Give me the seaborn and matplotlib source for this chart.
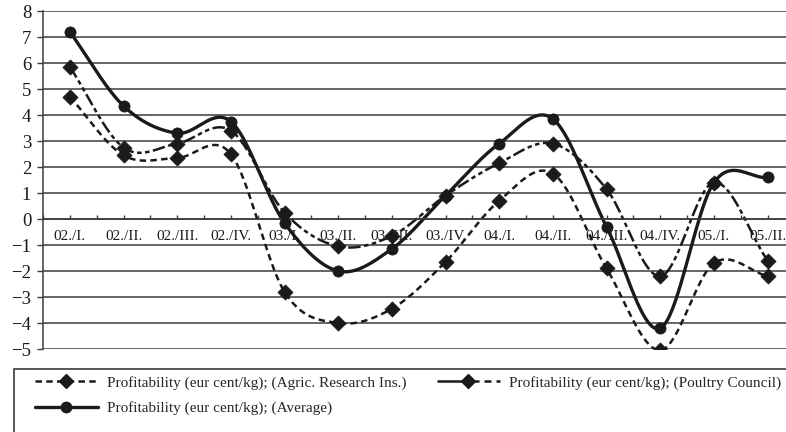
import numpy as np
import pandas as pd
import matplotlib
matplotlib.use("Agg")
import matplotlib.pyplot as plt
import seaborn as sns
from matplotlib.lines import Line2D
from matplotlib.patches import Rectangle

categories = ["02./I.", "02./II.", "02./III.", "02./IV.", "03./I.", "03./II.", "03./III.",
              "03./IV.", "04./I.", "04./II.", "04./III.", "04./IV.", "05./I.", "05./II."]
agric = [4.7, 2.45, 2.35, 2.5, -2.8, -4.0, -3.45, -1.65, 0.7, 1.75, -1.9, -5.05, -1.7, -2.2]
poultry = [5.85, 2.75, 2.9, 3.4, 0.25, -1.05, -0.65, 0.9, 2.15, 2.9, 1.15, -2.2, 1.4, -1.6]
average = [7.2, 4.35, 3.3, 3.75, -0.15, -2.0, -1.15, 0.9, 2.9, 3.85, -0.3, -4.2, 1.4, 1.6]
y_ticks = list(range(-5, 9))
labels = ["Profitability (eur cent/kg); (Agric. Research Ins.)",
          "Profitability (eur cent/kg); (Poultry Council)",
          "Profitability (eur cent/kg); (Average)"]


def smooth(vals, n=40):
    y = np.asarray(vals, float)
    p = np.concatenate([[2 * y[0] - y[1]], y, [2 * y[-1] - y[-2]]])
    xs, ys = [], []
    for i in range(len(y) - 1):
        t = np.linspace(0, 1, n, endpoint=(i == len(y) - 2))
        p0, p1, p2, p3 = p[i], p[i + 1], p[i + 2], p[i + 3]
        m1 = (p2 - p0) / 2
        m2 = (p3 - p1) / 2
        h00 = 2 * t**3 - 3 * t**2 + 1
        h10 = t**3 - 2 * t**2 + t
        h01 = -2 * t**3 + 3 * t**2
        h11 = t**3 - t**2
        xs.append(i + t)
        ys.append(h00 * p1 + h10 * m1 + h01 * p2 + h11 * m2)
    return np.concatenate(xs), np.concatenate(ys)


sns.set_theme(style="white")
plt.rcParams["font.family"] = ["Liberation Serif", "DejaVu Serif"]

W, H = 786, 432
fig = plt.figure(figsize=(W / 100, H / 100), dpi=100)
left, top, bottom = 43, 11, 349
right = 43 + 14 * 53.67
ax = fig.add_axes([left / W, 1 - bottom / H, (right - left) / W, (bottom - top) / H])

ink = "#1a1a1a"
grid_c = "#3c3c3c"
styles = {
    "agric": dict(lw=1.8, dashes=(2.6, 1.7)),
    "poultry": dict(lw=1.8, dashes=(5.0, 1.4, 1.8, 1.4, 1.8, 1.4)),
    "average": dict(lw=2.4, dashes=None),
}

idx = np.arange(len(categories))
for key, vals, mk in [("agric", agric, "D"), ("poultry", poultry, "D"), ("average", average, "o")]:
    sx, sy = smooth(vals)
    df = pd.DataFrame({"x": sx, "y": sy})
    sns.lineplot(data=df, x="x", y="y", ax=ax, color=ink, lw=styles[key]["lw"],
                 sort=False, estimator=None)
    line = ax.lines[-1]
    if styles[key]["dashes"] is not None:
        line.set_dashes(styles[key]["dashes"])
    line.set_solid_capstyle("butt")
    dfm = pd.DataFrame({"x": idx, "y": vals})
    sns.scatterplot(data=dfm, x="x", y="y", ax=ax, marker=mk, s=60 if mk == "D" else 65,
                    color=ink, edgecolor=ink, linewidth=0.5, zorder=5)

ax.set_xlim(-0.5, len(categories) - 0.5)
ax.set_ylim(-5, 8)
ax.set_yticks(y_ticks)
ax.set_yticklabels([f"{v}".replace("-", "\u2212") for v in y_ticks])
ax.set_xticks(idx)
ax.set_xticklabels(categories)
ax.set_xticks(np.arange(-0.5, len(categories), 1.0), minor=True)
ax.set_xlabel("")
ax.set_ylabel("")

ax.grid(False)
for yv in y_ticks:
    ax.axhline(yv, color=grid_c, lw=1.1, zorder=0)

for s in ["top", "right"]:
    ax.spines[s].set_visible(False)
ax.spines["bottom"].set_position(("data", 0))
ax.spines["bottom"].set_color(grid_c)
ax.spines["bottom"].set_linewidth(1.1)
ax.spines["left"].set_color(grid_c)
ax.spines["left"].set_linewidth(1.1)

ax.tick_params(axis="x", which="both", direction="in", length=3, width=1, color=grid_c,
               bottom=True, pad=8, labelsize=11, labelcolor=ink)
ax.tick_params(axis="y", which="major", direction="out", length=4.5, width=1, color=grid_c,
               left=True, pad=4, labelsize=13.5, labelcolor=ink)

h_agric = Line2D([], [], color=ink, lw=1.8, dashes=(2.6, 1.7), marker="D", markersize=7)
h_avg = Line2D([], [], color=ink, lw=2.4, marker="o", markersize=7.5)
h_poul = Line2D([], [], color=ink, lw=1.8, dashes=(12, 2, 2.8, 2, 2.8, 2), marker="D", markersize=7)

leg_kw = dict(loc="upper left", frameon=False, fontsize=11, handlelength=4.1, handletextpad=0.6,
              labelspacing=0.75, borderpad=0, borderaxespad=0)
leg1 = fig.legend([h_agric, h_avg], [labels[0], labels[2]], bbox_to_anchor=(35 / W, 1 - 376 / H), **leg_kw)
leg2 = fig.legend([h_poul], [labels[1]], bbox_to_anchor=(437 / W, 1 - 376 / H), **leg_kw)
fig.patches.append(Rectangle((14 / W, -0.05), 1.0, (1 - 369 / H) + 0.05, transform=fig.transFigure,
                             fill=False, edgecolor=grid_c, lw=1.2))

fig.savefig("out.png", dpi=100)
